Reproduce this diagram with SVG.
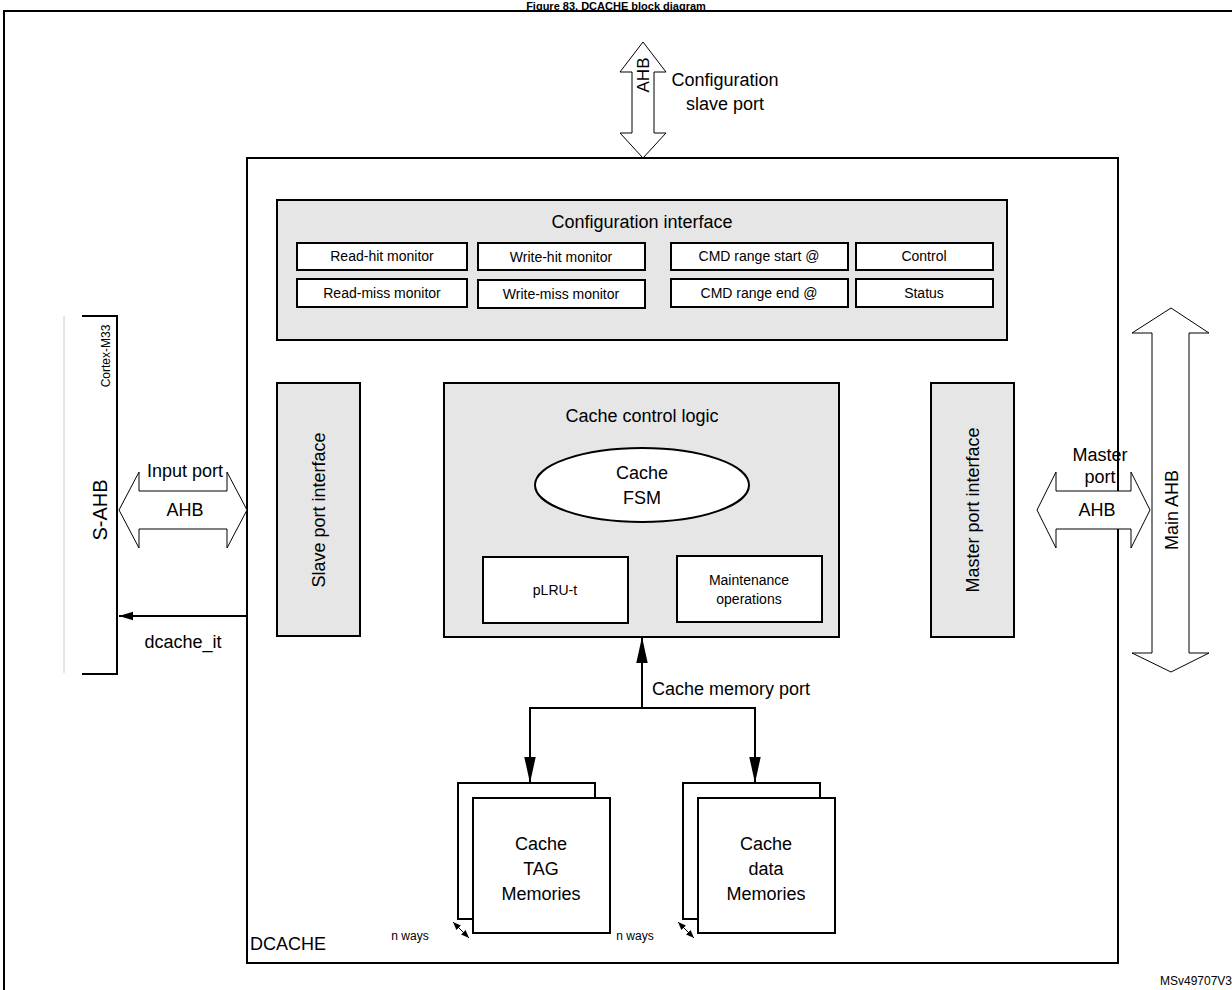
<svg xmlns="http://www.w3.org/2000/svg" width="1232" height="990" viewBox="0 0 1232 990">
<style>
text{font-family:"Liberation Sans",Arial,sans-serif;fill:#000}
.b{fill:none;stroke:#000;stroke-width:2}
.g{fill:#e6e6e6;stroke:#000;stroke-width:2}
.w{fill:#fff;stroke:#000;stroke-width:2}
.a{fill:#fff;stroke:#000;stroke-width:1}
.l{stroke:#000;stroke-width:2;fill:none}
.t16{font-size:16px}
.t14{font-size:14px}
.t18{font-size:18px}
</style>
<defs>
<marker id="ah" viewBox="0 0 10 10" refX="10" refY="5" markerWidth="14" markerHeight="14" markerUnits="userSpaceOnUse" orient="auto"><path d="M0,2 L10,5 L0,8z" fill="#000"/></marker>
<marker id="big" viewBox="0 0 10 10" refX="10" refY="5" markerWidth="26" markerHeight="26" markerUnits="userSpaceOnUse" orient="auto"><path d="M0,2.8 L10,5 L0,7.2z" fill="#000"/></marker>
<marker id="sm" viewBox="0 0 10 10" refX="10" refY="5" markerWidth="8" markerHeight="8" markerUnits="userSpaceOnUse" orient="auto-start-reverse"><path d="M0,1 L10,5 L0,9z" fill="#000"/></marker>
</defs>
<text x="616" y="9.5" text-anchor="middle" font-weight="bold" font-size="11">Figure 83. DCACHE block diagram</text>
<rect x="4" y="11" width="1240" height="990" class="b" stroke-width="2.5"/>
<g id="dcache"><rect x="247" y="158" width="871" height="805" class="b"/><text x="250" y="950" class="t18">DCACHE</text></g>
<g id="config-port">
<path class="a" d="M643,42 L666,72 L654,72 L654,133 L666,133 L643,158 L620,133 L632,133 L632,72 L620,72z"/>
<text transform="translate(649,75) rotate(-90)" text-anchor="middle" font-size="17">AHB</text>
<text x="725" y="86" text-anchor="middle" class="t18">Configuration</text>
<text x="725" y="110" text-anchor="middle" class="t18">slave port</text>
</g>
<g id="config-if">
<rect x="277" y="200" width="730" height="140" class="g"/>
<text x="642" y="228" text-anchor="middle" class="t18">Configuration interface</text>
<rect x="297" y="243" width="170" height="27" class="w"/><text x="382" y="261" text-anchor="middle" class="t14">Read-hit monitor</text>
<rect x="478" y="243" width="167" height="27" class="w"/><text x="561" y="262" text-anchor="middle" class="t14">Write-hit monitor</text>
<rect x="671" y="243" width="177" height="27" class="w"/><text x="759" y="261" text-anchor="middle" class="t14">CMD range start @</text>
<rect x="856" y="243" width="137" height="27" class="w"/><text x="924" y="261" text-anchor="middle" class="t14">Control</text>
<rect x="297" y="279" width="170" height="28" class="w"/><text x="382" y="298" text-anchor="middle" class="t14">Read-miss monitor</text>
<rect x="478" y="280" width="167" height="28" class="w"/><text x="561" y="299" text-anchor="middle" class="t14">Write-miss monitor</text>
<rect x="671" y="279" width="177" height="28" class="w"/><text x="759" y="298" text-anchor="middle" class="t14">CMD range end @</text>
<rect x="856" y="279" width="137" height="28" class="w"/><text x="924" y="298" text-anchor="middle" class="t14">Status</text>
</g>
<g id="slave-if"><rect x="277" y="383" width="83" height="253" class="g"/><text transform="translate(325,510) rotate(-90)" text-anchor="middle" class="t18">Slave port interface</text></g>
<g id="master-if"><rect x="931" y="383" width="83" height="254" class="g"/><text transform="translate(979,510) rotate(-90)" text-anchor="middle" class="t18">Master port interface</text></g>
<g id="ccl">
<rect x="444" y="383" width="395" height="254" class="g"/>
<text x="642" y="422" text-anchor="middle" class="t18">Cache control logic</text>
<ellipse cx="642" cy="485" rx="107" ry="37" class="w"/>
<text x="642" y="479" text-anchor="middle" class="t18">Cache</text>
<text x="642" y="504" text-anchor="middle" class="t18">FSM</text>
<rect x="483" y="557" width="145" height="66" class="w"/><text x="555" y="595" text-anchor="middle" class="t14">pLRU-t</text>
<rect x="677" y="556" width="145" height="66" class="w"/><text x="749" y="585" text-anchor="middle" class="t14">Maintenance</text><text x="749" y="604" text-anchor="middle" class="t14">operations</text>
</g>
<g id="tag-mem">
<rect x="458" y="783" width="137" height="136" class="w"/>
<rect x="473" y="798" width="137" height="135" class="w"/>
<text x="541" y="850" text-anchor="middle" class="t18">Cache</text><text x="541" y="875" text-anchor="middle" class="t18">TAG</text><text x="541" y="900" text-anchor="middle" class="t18">Memories</text>
<text x="410" y="940" text-anchor="middle" font-size="12">n ways</text>
<line x1="453" y1="922" x2="469" y2="938" stroke="#000" stroke-width="1" marker-start="url(#sm)" marker-end="url(#sm)"/>
</g>
<g id="data-mem">
<rect x="683" y="783" width="137" height="136" class="w"/>
<rect x="698" y="798" width="137" height="135" class="w"/>
<text x="766" y="850" text-anchor="middle" class="t18">Cache</text><text x="766" y="875" text-anchor="middle" class="t18">data</text><text x="766" y="900" text-anchor="middle" class="t18">Memories</text>
<text x="635" y="940" text-anchor="middle" font-size="12">n ways</text>
<line x1="678" y1="922" x2="694" y2="938" stroke="#000" stroke-width="1" marker-start="url(#sm)" marker-end="url(#sm)"/>
</g>
<g id="cortex">
<line x1="64" y1="316" x2="64" y2="673" stroke="#ccc" stroke-width="1"/>
<path d="M82,316 L117,316 L117,674 L82,674" class="l"/>
<text transform="translate(110,356) rotate(-90)" text-anchor="middle" font-size="12">Cortex-M33</text>
<text transform="translate(107,510) rotate(-90)" text-anchor="middle" font-size="20">S-AHB</text>
</g>
<g id="main-ahb">
<path class="a" d="M1171,308 L1209,333 L1189,333 L1189,653 L1209,653 L1171,672 L1132,653 L1152,653 L1152,333 L1132,333z"/>
<text transform="translate(1178,510) rotate(-90)" text-anchor="middle" class="t18">Main AHB</text>
</g>
<g id="connectors">
<path class="a" d="M119,510 L139,472 L139,491 L227,491 L227,472 L247,510 L227,548 L227,529 L139,529 L139,548z"/>
<text x="185" y="477" text-anchor="middle" class="t18">Input port</text>
<text x="185" y="516" text-anchor="middle" class="t18">AHB</text>
<line x1="247" y1="616" x2="119" y2="616" class="l" marker-end="url(#ah)" stroke-width="1.5"/>
<text x="183" y="648" text-anchor="middle" class="t18">dcache_it</text>
<path class="a" d="M1037,510 L1056,472 L1056,491 L1131,491 L1131,472 L1150,510 L1131,548 L1131,529 L1056,529 L1056,548z"/>
<text x="1100" y="461" text-anchor="middle" class="t18">Master</text>
<text x="1100" y="483" text-anchor="middle" class="t18">port</text>
<text x="1097" y="516" text-anchor="middle" class="t18">AHB</text>
<line x1="642" y1="708" x2="642" y2="637" class="l" marker-end="url(#big)"/>
<path d="M530,708 L755,708" class="l"/>
<line x1="530" y1="707" x2="530" y2="783" class="l" marker-end="url(#big)"/>
<line x1="755" y1="707" x2="755" y2="783" class="l" marker-end="url(#big)"/>
<text x="652" y="695" class="t18">Cache memory port</text>
</g>
<text x="1232" y="985" text-anchor="end" font-size="12">MSv49707V3</text>
</svg>
